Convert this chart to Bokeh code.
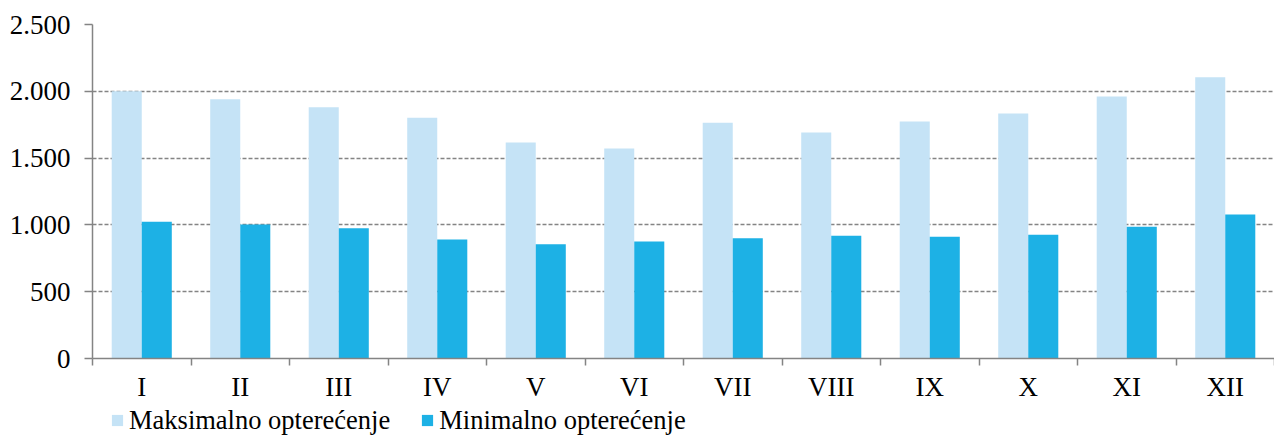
import numpy as np
from bokeh.plotting import figure
from bokeh.layouts import column
from bokeh.models import FixedTicker, Range1d, Legend, LegendItem, ColumnDataSource
from bokeh.embed import file_html
from bokeh.resources import INLINE

categories = ["I", "II", "III", "IV", "V", "VI", "VII", "VIII", "IX", "X", "XI", "XII"]
maksimalno = [2000, 1940, 1880, 1802, 1617, 1572, 1764, 1692, 1774, 1834, 1961, 2106]
minimalno = [1023, 1003, 975, 891, 856, 876, 901, 918, 911, 926, 986, 1078]
y_ticks = [0, 500, 1000, 1500, 2000, 2500]
y_tick_labels = ["0", "500", "1.000", "1.500", "2.000", "2.500"]
series_names = ["Maksimalno opterećenje", "Minimalno opterećenje"]

LIGHT = "#C5E3F6"
DARK = "#1DB1E5"
AXIS = "#848484"
FONT = "Liberation Serif"

n = len(categories)
idx = np.arange(n)
bw = 0.305
src = ColumnDataSource(dict(
    x1=idx + 0.5 - bw / 2,
    x2=idx + 0.5 + bw / 2,
    maks=maksimalno,
    mini=minimalno,
))

p = figure(width=1274, height=404, output_backend="svg", toolbar_location=None,
           x_range=Range1d(0, n), y_range=Range1d(0, 2500),
           min_border_left=92, min_border_right=0, min_border_top=24, min_border_bottom=46)
p.outline_line_color = None
p.background_fill_color = "white"
p.border_fill_color = "white"

p.vbar(x="x1", top="maks", width=bw, bottom=0, source=src,
       fill_color=LIGHT, line_color=LIGHT, line_width=0)
p.vbar(x="x2", top="mini", width=bw, bottom=0, source=src,
       fill_color=DARK, line_color=DARK, line_width=0)

# x axis: labels at category centres, tick marks at category boundaries
xa = p.xaxis[0]
xa.ticker = FixedTicker(ticks=list(idx + 0.5), minor_ticks=list(range(n + 1)))
xa.major_label_overrides = {float(i + 0.5): c for i, c in enumerate(categories)}
xa.major_tick_out = 0
xa.major_tick_in = 0
xa.minor_tick_out = 7
xa.minor_tick_in = 0
xa.minor_tick_line_color = AXIS
xa.minor_tick_line_width = 1.5
xa.axis_line_color = AXIS
xa.axis_line_width = 1.5
xa.major_label_text_font = FONT
xa.major_label_text_font_size = "27px"
xa.major_label_text_color = "black"
xa.major_label_standoff = 6

ya = p.yaxis[0]
ya.ticker = FixedTicker(ticks=y_ticks)
ya.major_label_overrides = {t: l for t, l in zip(y_ticks, y_tick_labels)}
ya.minor_tick_out = 0
ya.minor_tick_in = 0
ya.major_tick_out = 8
ya.major_tick_in = 0
ya.major_tick_line_color = AXIS
ya.major_tick_line_width = 1.5
ya.axis_line_color = AXIS
ya.axis_line_width = 1.5
ya.major_label_text_font = FONT
ya.major_label_text_font_size = "27px"
ya.major_label_text_color = "black"
ya.major_label_standoff = 14

p.xgrid.grid_line_color = None
p.ygrid.grid_line_color = AXIS
p.ygrid.grid_line_width = 1.5
p.ygrid.grid_line_dash = "4 2"

# legend strip below the chart; its own copies of the series are hidden
lg = figure(width=1274, height=32, output_backend="svg", toolbar_location=None,
            x_range=Range1d(0, n), y_range=Range1d(0, 2500),
            x_axis_location=None, y_axis_location=None,
            min_border_left=0, min_border_right=0, min_border_top=0, min_border_bottom=0)
lg.outline_line_color = None
lg.grid.visible = False
lg.background_fill_color = "white"
lg.border_fill_color = "white"
g1 = lg.vbar(x="x1", top="maks", width=bw, bottom=0, source=src,
             fill_color=LIGHT, line_color=LIGHT, line_width=0, visible=False)
g2 = lg.vbar(x="x2", top="mini", width=bw, bottom=0, source=src,
             fill_color=DARK, line_color=DARK, line_width=0, visible=False)

legend = Legend(items=[LegendItem(label=series_names[0], renderers=[g1]),
                       LegendItem(label=series_names[1], renderers=[g2])],
                orientation="horizontal", location=(18, 0),
                label_text_font=FONT, label_text_font_size="26.5px",
                label_text_color="black", label_height=32,
                glyph_width=14, glyph_height=14, label_standoff=5,
                spacing=30, padding=0, margin=0,
                inactive_fill_alpha=0,
                border_line_color=None, background_fill_alpha=0)
lg.add_layout(legend, "center")

layout = column(p, lg, spacing=0)
open("out.html", "w").write(file_html(layout, INLINE))
